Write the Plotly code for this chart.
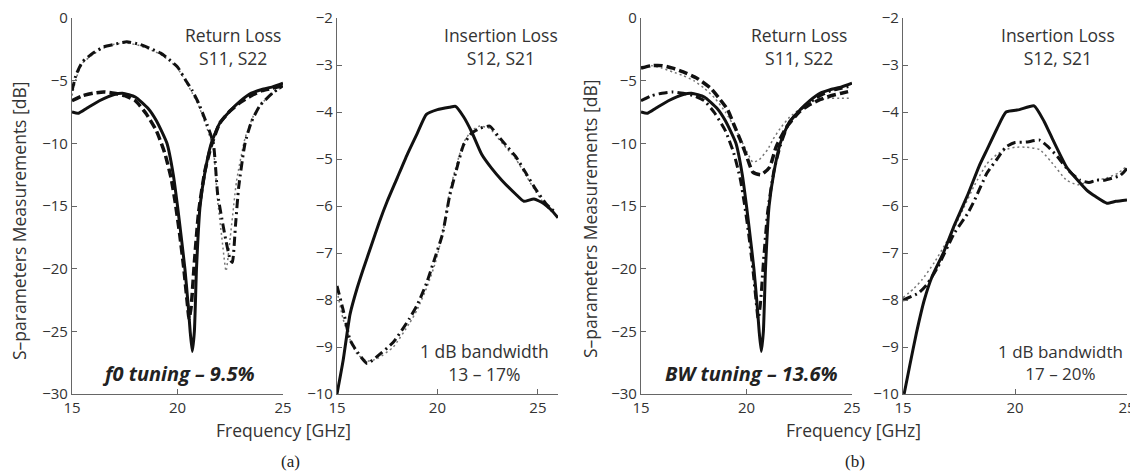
import plotly.graph_objects as go

W, H = 1138, 474
FONT = "Open Sans"
PAGE_OFFSET = 8  # the browser's default body margin shifts the figure by this many pixels

# ---------------- (a) Return loss: f0 tuning ----------------
a_rl_s11A_f = [15.0, 15.3, 15.7, 16.3, 17.0, 17.4, 18.0, 18.6, 19.0, 19.5, 19.8, 20.0, 20.2, 20.35, 20.5, 20.6, 20.7,
               20.8, 20.9, 21.07, 21.3, 21.6, 22.0, 22.5, 23.0, 23.5, 24.0, 24.5, 25.0]
a_rl_s11A_db = [-7.5, -7.6, -7.2, -6.6, -6.1, -6.0, -6.3, -7.2, -8.2, -10.0, -12.5, -15.0, -17.8, -20.0, -22.8, -25.0, -26.6,
                -25.0, -20.0, -15.0, -12.3, -10.0, -8.4, -7.4, -6.6, -6.0, -5.7, -5.5, -5.2]

a_rl_s22A_f = [15.0, 15.5, 16.0, 16.5, 17.0, 17.5, 18.0, 18.5, 19.0, 19.4, 19.7, 19.9, 20.1, 20.3, 20.45, 20.55, 20.65,
               20.8, 21.0, 21.3, 21.6, 22.0, 22.5, 23.0, 23.5, 24.0, 24.5, 25.0]
a_rl_s22A_db = [-6.6, -6.2, -6.0, -5.9, -6.0, -6.2, -6.6, -7.6, -9.0, -10.8, -12.8, -14.8, -17.2, -20.0, -22.5, -24.0, -23.0,
                -19.5, -15.5, -12.2, -10.2, -8.4, -7.4, -6.7, -6.2, -5.8, -5.6, -5.4]

a_rl_s11B_f = [15.0, 15.2, 15.5, 16.0, 16.5, 17.0, 17.6, 18.2, 18.8, 19.2, 19.6, 20.0, 20.4, 20.7, 21.0, 21.4, 21.7,
               21.9, 22.1, 22.3, 22.5, 22.6, 22.75, 22.9, 23.2, 23.5, 23.9, 24.5, 25.0]
a_rl_s11B_db = [-5.8, -4.5, -3.5, -2.8, -2.3, -2.1, -1.9, -2.1, -2.5, -2.8, -3.3, -3.9, -5.0, -5.8, -6.8, -8.5, -10.0,
                -14.0, -16.0, -17.8, -19.3, -19.5, -16.5, -13.5, -10.0, -8.3, -7.0, -6.0, -5.4]

a_rl_s22B_f = [15.0, 15.2, 15.5, 16.0, 16.5, 17.0, 17.6, 18.2, 18.8, 19.2, 19.6, 20.0, 20.4, 20.7, 21.0, 21.4, 21.7,
               21.9, 22.1, 22.3, 22.5, 22.8, 23.2, 23.6, 24.0, 24.5, 25.0]
a_rl_s22B_db = [-6.2, -4.8, -3.6, -2.9, -2.4, -2.1, -2.0, -2.2, -2.6, -2.9, -3.4, -4.0, -5.1, -6.0, -7.0, -8.8, -10.5,
                -14.5, -17.5, -20.2, -17.5, -13.0, -9.6, -7.8, -6.8, -6.0, -5.5]

# ---------------- (a) Insertion loss ----------------
a_il_A_f = [15.0, 15.3, 15.65, 16.0, 16.3, 16.7, 17.1, 17.5, 18.0, 18.5, 19.0, 19.45, 20.0, 20.6, 20.9, 21.3, 21.7,
            22.2, 22.7, 23.2, 23.9, 24.3, 24.8, 25.3, 25.7, 26.0]
a_il_A_db = [-10.0, -9.3, -8.3, -7.75, -7.35, -6.85, -6.35, -5.9, -5.4, -4.9, -4.45, -4.05, -3.95, -3.9, -3.88, -4.1,
             -4.42, -4.9, -5.2, -5.45, -5.75, -5.9, -5.85, -5.95, -6.1, -6.25]

a_il_B_f = [15.0, 15.3, 15.65, 16.0, 16.5, 17.0, 17.8, 18.6, 19.0, 19.45, 19.8, 20.25, 20.6, 20.9, 21.3, 21.7, 22.1,
            22.6, 23.0, 23.5, 23.9, 24.4, 24.9, 25.4, 25.9]
a_il_B_db = [-7.7, -8.2, -8.85, -9.1, -9.35, -9.2, -8.9, -8.4, -8.1, -7.65, -7.2, -6.6, -5.8, -5.3, -4.7, -4.45, -4.35,
             -4.3, -4.5, -4.75, -4.95, -5.3, -5.65, -5.95, -6.15]

a_il_B2_f = [15.0, 15.3, 15.7, 16.0, 16.5, 17.0, 17.8, 18.6, 19.0, 19.5, 19.9, 20.3, 20.6, 20.9, 21.3, 21.7, 22.1,
             22.6, 23.0, 23.5, 23.9, 24.4, 24.9, 25.4, 25.9]
a_il_B2_db = [-7.8, -8.4, -8.9, -9.15, -9.3, -9.25, -9.0, -8.5, -8.2, -7.7, -7.2, -6.5, -5.7, -5.2, -4.65, -4.4, -4.3,
              -4.35, -4.55, -4.8, -5.0, -5.35, -5.7, -6.0, -6.2]

# ---------------- (b) Return loss: BW tuning ----------------
b_rl_s11B_f = [15.0, 15.5, 16.0, 16.5, 17.0, 17.65, 18.3, 18.7, 19.1, 19.4, 19.7, 20.0, 20.3, 20.7, 21.1, 21.4, 21.9,
               22.5, 23.0, 23.5, 24.0, 24.5, 25.0]
b_rl_s11B_db = [-4.0, -3.8, -3.8, -4.0, -4.3, -4.8, -5.6, -6.4, -7.3, -8.5, -9.7, -11.0, -12.3, -12.5, -11.9, -10.3, -8.7,
                -7.5, -6.9, -6.5, -6.2, -6.0, -5.8]

b_rl_s22B_f = [15.0, 15.5, 16.0, 16.5, 17.0, 17.5, 18.0, 18.5, 19.0, 19.5, 20.0, 20.3, 20.6, 21.0, 21.25, 21.6, 22.05,
               22.5, 22.9, 23.5, 24.0, 24.5, 25.0]
b_rl_s22B_db = [-3.9, -3.8, -4.0, -4.3, -4.6, -5.0, -5.6, -6.4, -7.5, -8.9, -10.6, -11.5, -11.3, -10.5, -9.7, -8.8, -7.9,
                -7.3, -6.8, -6.5, -6.4, -6.4, -6.4]

# ---------------- (b) Insertion loss ----------------
b_il_A_f = [15.05, 15.3, 15.6, 15.95, 16.3, 16.8, 17.3, 17.9, 18.4, 18.75, 19.2, 19.6, 20.2, 20.85, 21.3,
            21.7, 22.3, 22.7, 23.2, 23.6, 24.1, 24.5, 25.0]
b_il_A_db = [-10.0, -9.4, -8.7, -8.0, -7.5, -7.0, -6.4, -5.75, -5.15, -4.8, -4.35, -4.0, -3.95, -3.87, -4.2,
             -4.6, -5.17, -5.4, -5.66, -5.8, -5.94, -5.9, -5.87]

b_il_B_f = [15.0, 15.7, 16.1, 16.55, 17.3, 17.9, 18.2, 18.75, 19.2, 19.6, 20.0, 20.5, 21.1, 21.5, 21.9, 22.4, 22.9,
            23.3, 23.65, 24.0, 24.4, 24.7, 25.0]
b_il_B_db = [-8.0, -7.85, -7.65, -7.3, -6.57, -6.15, -5.87, -5.3, -5.0, -4.74, -4.65, -4.64, -4.6, -4.75, -4.95, -5.25,
             -5.45, -5.5, -5.45, -5.45, -5.4, -5.35, -5.2]

b_il_B2_f = [15.0, 15.5, 15.85, 16.4, 16.9, 17.2, 17.7, 18.2, 18.75, 19.2, 19.6, 20.0, 20.5, 21.1, 21.6, 22.3, 22.8,
             23.2, 23.7, 24.1, 24.6, 25.0]
b_il_B2_db = [-7.95, -7.75, -7.57, -7.2, -6.8, -6.55, -6.05, -5.55, -5.1, -4.9, -4.8, -4.75, -4.75, -4.8, -5.05, -5.45,
              -5.55, -5.5, -5.45, -5.4, -5.3, -5.15]

# ---------------- texts ----------------
y_title = "S\u2013parameters Measurements [dB]"
x_title = "Frequency [GHz]"
rl_label = "Return Loss<br>S11, S22"
il_label = "Insertion Loss<br>S12, S21"
a_tuning = "f0 tuning \u2013 9.5%"
b_tuning = "BW tuning \u2013 13.6%"
a_bw = "1 dB bandwidth<br>13 \u2013 17%"
b_bw = "1 dB bandwidth<br>17 \u2013 20%"

SOLID = dict(color="#111111", width=3, dash="solid")
DASH = dict(color="#111111", width=3.5, dash="9px,4px")
DASHDOT = dict(color="#111111", width=3, dash="9px,4px,2px,4px")
DOT = dict(color="#777777", width=1.5, dash="2px,3px")

fig = go.Figure()


def add(x, y, style, n):
    sfx = "" if n == 1 else str(n)
    fig.add_trace(go.Scatter(x=x, y=y, mode="lines", line=dict(**style, shape="spline", smoothing=0.5),
                             xaxis="x" + sfx, yaxis="y" + sfx, showlegend=False, hoverinfo="skip"))


# panel 1
add(a_rl_s22B_f, a_rl_s22B_db, DOT, 1)
add(a_rl_s11B_f, a_rl_s11B_db, DASHDOT, 1)
add(a_rl_s22A_f, a_rl_s22A_db, DASH, 1)
add(a_rl_s11A_f, a_rl_s11A_db, SOLID, 1)
# panel 2
add(a_il_B2_f, a_il_B2_db, DOT, 2)
add(a_il_B_f, a_il_B_db, DASHDOT, 2)
add(a_il_A_f, a_il_A_db, SOLID, 2)
# panel 3
add(b_rl_s22B_f, b_rl_s22B_db, DOT, 3)
add(b_rl_s11B_f, b_rl_s11B_db, DASH, 3)
add(a_rl_s22A_f, a_rl_s22A_db, DASHDOT, 3)
add(a_rl_s11A_f, a_rl_s11A_db, SOLID, 3)
# panel 4
add(b_il_B2_f, b_il_B2_db, DOT, 4)
add(b_il_B_f, b_il_B_db, DASHDOT, 4)
add(b_il_A_f, b_il_A_db, SOLID, 4)


def px(v):
    return (v - PAGE_OFFSET) / W


def py(v):
    return 1 - (v - PAGE_OFFSET) / H


def axis(domain, rng, dtick, anchor):
    return dict(domain=domain, range=rng, dtick=dtick, tick0=rng[0], showline=True, linecolor="#666666",
                linewidth=1.2, ticks="inside", ticklen=5, tickcolor="#666666",
                tickfont=dict(family=FONT, size=15, color="#333333"), showgrid=False, zeroline=False,
                anchor=anchor, fixedrange=True, automargin=False, ticklabeloverflow="allow")


ydom = [py(394), py(18)]
fig.update_layout(
    width=W, height=H, margin=dict(l=0, r=0, t=0, b=0, pad=0, autoexpand=False),
    paper_bgcolor="white", plot_bgcolor="white",
    xaxis=axis([px(72), px(283)], [15, 25], 5, "y"),
    yaxis=axis(ydom, [-30, 0], 5, "x"),
    xaxis2=axis([px(337), px(558)], [15, 26], 5, "y2"),
    yaxis2=axis(ydom, [-10, -2], 1, "x2"),
    xaxis3=axis([px(641), px(852)], [15, 25], 5, "y3"),
    yaxis3=axis(ydom, [-30, 0], 5, "x3"),
    xaxis4=axis([px(903), px(1127)], [15, 25], 5, "y4"),
    yaxis4=axis(ydom, [-10, -2], 1, "x4"),
)

ann = []


def text(x, y, t, size=16, color="#333333", family=FONT, angle=0, xa="center"):
    ann.append(dict(x=px(x), y=py(y), xref="paper", yref="paper", text=t, showarrow=False, textangle=angle,
                    xanchor=xa, yanchor="middle", font=dict(family=family, size=size, color=color)))


text(19, 221, y_title, size=17.5, angle=-90)
text(590, 219, y_title, size=17.5, angle=-90)
text(283, 430, x_title, size=17.5)
text(853, 430, x_title, size=17.5)
text(290, 461, "(a)", size=17, color="#222222", family="Liberation Serif")
text(855, 461, "(b)", size=17, color="#222222", family="Liberation Serif")
text(233, 46, rl_label, size=17.5)
text(799, 46, rl_label, size=17.5)
text(501, 46, il_label, size=17.5)
text(1058, 46, il_label, size=17.5)
text(485, 362, a_bw, size=17.5)
text(1060, 362, b_bw, size=17)
text(178, 373, "<b><i>" + a_tuning + "</i></b>", size=20, color="#222222")
text(751, 373, "<b><i>" + b_tuning + "</i></b>", size=20, color="#222222")

fig.update_layout(annotations=ann)
fig.write_html("out.html")
